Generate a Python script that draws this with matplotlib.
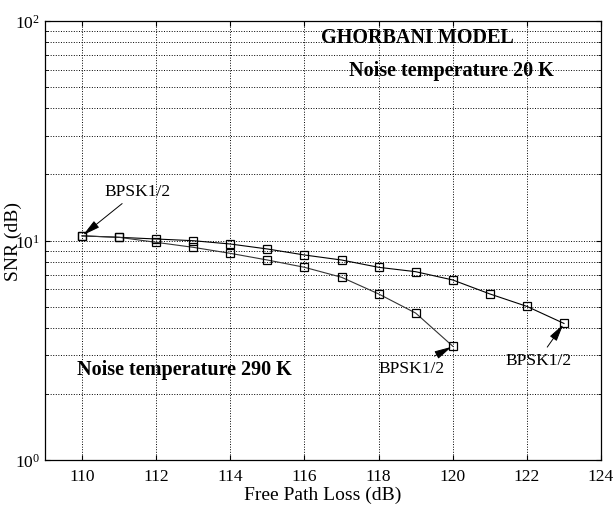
import matplotlib
matplotlib.use("Agg")
import matplotlib.pyplot as plt

plt.rcParams['font.family'] = ['Liberation Serif', 'DejaVu Serif']
plt.rcParams['mathtext.fontset'] = 'stix'

# data
loss_20k = [110, 111, 112, 113, 114, 115, 116, 117, 118, 119, 120, 121, 122, 123]
snr_20k = [10.5, 10.34, 10.16, 9.98, 9.64, 9.15, 8.59, 8.15, 7.55, 7.21, 6.61, 5.71, 5.01, 4.19]
loss_290k = [110, 111, 112, 113, 114, 115, 116, 117, 118, 119, 120]
snr_290k = [10.5, 10.34, 9.81, 9.31, 8.74, 8.15, 7.55, 6.80, 5.71, 4.67, 3.30]
x_ticks = [110, 112, 114, 116, 118, 120, 122, 124]

fig = plt.figure(figsize=(6.14, 5.06), dpi=100)
ax = fig.add_axes([0.0733, 0.0889, 0.9056, 0.8676])

ax.semilogy(loss_20k, snr_20k, color='black', lw=0.8, marker='s', ms=6,
            mfc='none', mec='black', mew=0.9)
ax.semilogy(loss_290k, snr_290k, color='#333333', lw=0.8, marker='s', ms=6,
            mfc='none', mec='black', mew=0.9)

ax.set_xlim(109, 124)
ax.set_ylim(1, 100)
ax.set_xticks(x_ticks)
ax.grid(True, which='major', ls=':', color='black', lw=0.7)
ax.grid(True, which='minor', axis='y', ls=':', color='black', lw=0.7)
ax.tick_params(which='both', direction='in', top=True, right=True, labelsize=12.5)
ax.tick_params(axis='x', pad=6)
for s in ax.spines.values():
    s.set_linewidth(0.9)

ax.set_xlabel('Free Path Loss (dB)', fontsize=14, labelpad=1)
ax.set_ylabel('SNR (dB)', fontsize=14, labelpad=-5)

# figure-pixel positions of the free texts
def fxy(px, py):
    return px / 614, 1 - py / 506

fig.text(*fxy(417, 38), 'GHORBANI MODEL', fontsize=14.5, fontweight='bold',
         ha='center', va='center')
fig.text(*fxy(451, 71), 'Noise temperature 20 K', fontsize=14.5,
         fontweight='bold', ha='center', va='center')
fig.text(*fxy(184, 370), 'Noise temperature 290 K', fontsize=14.5,
         fontweight='bold', ha='center', va='center')

arrow = dict(arrowstyle='-|>,head_length=0.75,head_width=0.18', color='black',
             lw=0.7, mutation_scale=14, shrinkA=2, shrinkB=1)
ax.annotate('BPSK1/2', xy=(loss_20k[0], snr_20k[0]), xytext=(111.5, 16.8),
            fontsize=12.5, ha='center', va='center', arrowprops=arrow)
ax.annotate('BPSK1/2', xy=(loss_290k[-1], snr_290k[-1]), xytext=(118.9, 2.62),
            fontsize=12.5, ha='center', va='center', arrowprops=arrow)
ax.annotate('BPSK1/2', xy=(loss_20k[-1], snr_20k[-1]), xytext=(122.3, 2.85),
            fontsize=12.5, ha='center', va='center', arrowprops=arrow)

fig.savefig('out.png', dpi=100)
